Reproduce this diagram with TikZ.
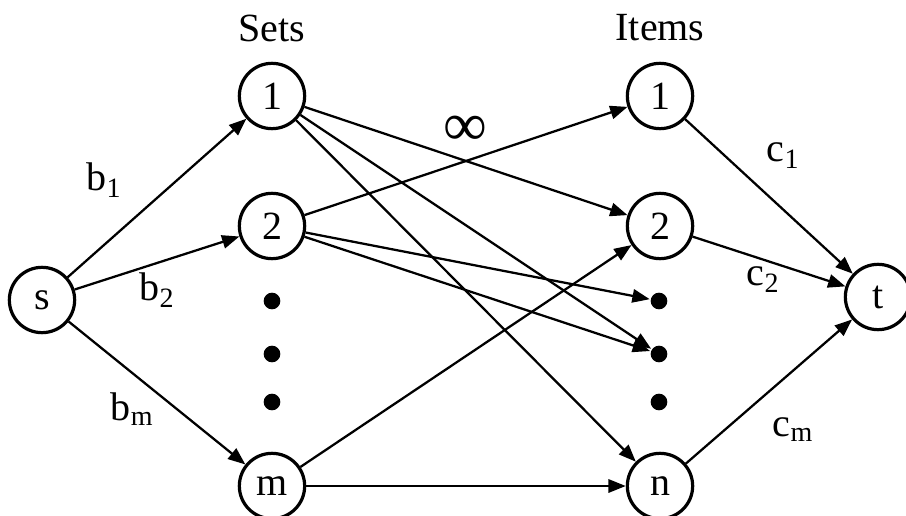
\documentclass[tikz,border=0pt]{standalone}
\usepackage{fontspec}
\setmainfont{Liberation Serif}
\usetikzlibrary{arrows.meta}
\tikzset{every picture/.style={line width=1.7pt}}

\begin{document}
\begin{tikzpicture}[x=0.75pt,y=0.75pt,yscale=-1,xscale=1,
  vtx/.style={draw, circle, line width=2.4pt, minimum size=49pt, inner sep=0pt, font=\fontsize{30}{34}\selectfont},
  blob/.style={circle, fill, minimum size=12.5pt, inner sep=0pt},
  arr/.style={-{Triangle[length=13pt,width=10pt]}},
  lbl/.style={inner sep=0.75pt, font=\fontsize{30}{34}\selectfont}]
\useasboundingbox (0,0) rectangle (906,516);

% Nodes
\node [vtx] (s) at (42,300) {s};
\node [vtx] (s1) at (272,96) {1};
\node [vtx] (s2) at (272,226) {2};
\node [vtx] (sm) at (272,486) {m};
\node [vtx] (i1) at (660,96) {1};
\node [vtx] (i2) at (660,226) {2};
\node [vtx] (in) at (660,486) {n};
\node [vtx] (t) at (878,297) {t};

% Dots
\node [blob] (sd1) at (272,301) {};
\node [blob] (sd2) at (272,354) {};
\node [blob] (sd3) at (272,402) {};
\node [blob] (id1) at (659,301) {};
\node [blob] (id2) at (659,354) {};
\node [blob] (id3) at (659,402) {};

% Source edges
\draw [arr] (s) -- (s1);
\draw [arr] (s) -- (s2);
\draw [arr] (s) -- (sm);

% Middle edges
\draw [arr] (s1) -- (i2);
\draw [arr] (s1) -- (id2);
\draw [arr] (s1) -- (in);
\draw [arr] (s2) -- (i1);
\draw [arr] (s2) -- (id1);
\draw [arr] (s2) -- (id2);
\draw [arr] (sm) -- (i2);
\draw [arr] (sm) -- (in);

% Sink edges
\draw [arr] (i1) -- (t);
\draw [arr] (i2) -- (t);
\draw [arr] (in) -- (t);

% Text Node
\node [lbl] (sets) at (272,28) {Sets};
% Text Node
\node [lbl] (items) at (660,28) {Items};
% Text Node
\node [lbl] (b1) at (104,180) {b\textsubscript{1}};
% Text Node
\node [lbl] (b2) at (157,290) {b\textsubscript{2}};
% Text Node
\node [lbl] (bm) at (132,409) {b\textsubscript{m}};
% Text Node
\node [lbl, font=\fontsize{46}{50}\selectfont] (inf) at (465,131) {∞};
% Text Node
\node [lbl] (c1) at (783,156) {c\textsubscript{1}};
% Text Node
\node [lbl] (c2) at (763,280) {c\textsubscript{2}};
% Text Node
\node [lbl] (cm) at (793,430) {c\textsubscript{m}};

\end{tikzpicture}
\end{document}
